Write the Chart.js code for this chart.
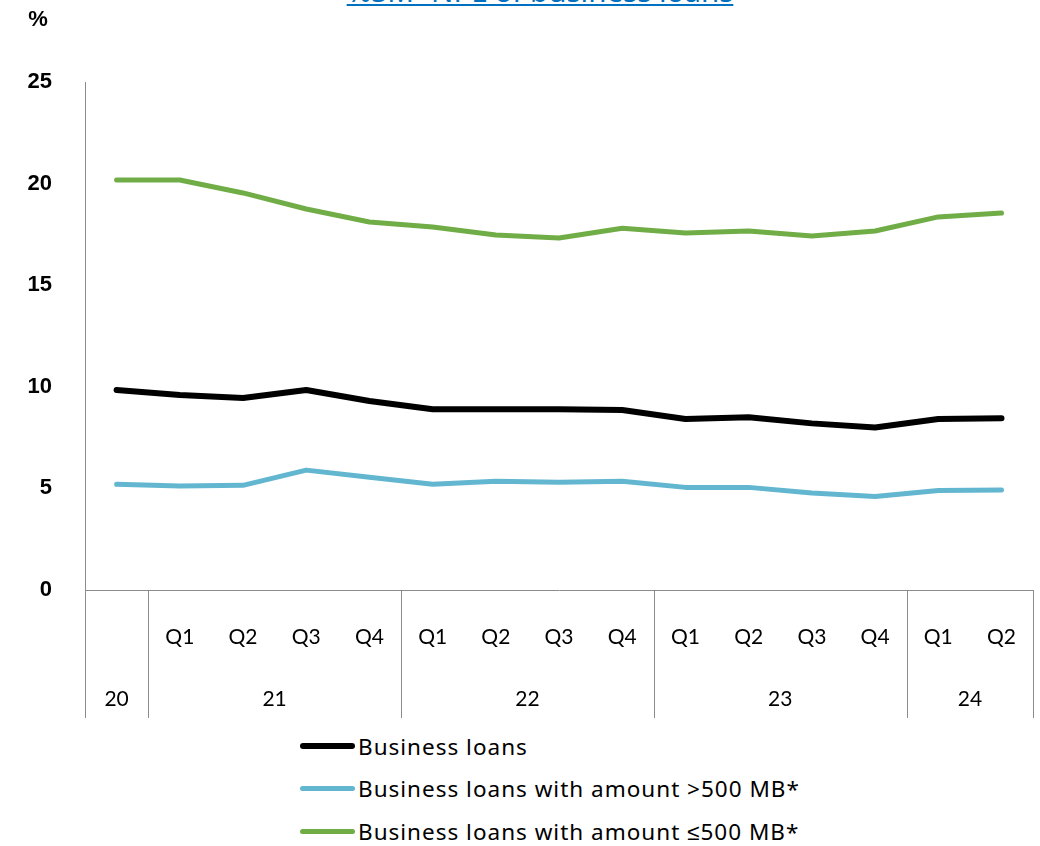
<!DOCTYPE html>
<html>
<head>
<meta charset="utf-8">
<script src="https://cdn.jsdelivr.net/npm/chart.js@4.4.1/dist/chart.umd.min.js"></script>
<style>
  html, body { margin: 0; padding: 0; background: #fff; overflow: hidden; }
  #wrap { position: relative; width: 1040px; height: 846px; overflow: hidden; }
  #title {
    position: absolute; left: 20px; width: 1040px; top: -30px; text-align: center;
    font-family: "Noto Sans", sans-serif; font-size: 29.5px; color: #0070c0;
  }
  #title span { text-decoration: underline; }
  #chart { position: absolute; left: 0; top: 0; }
  #legend { position: absolute; left: 300px; top: 725px; font-family: "Noto Sans", sans-serif; font-size: 22.5px; letter-spacing: 1px; color: #000; }
  .row { display: flex; align-items: center; height: 42.5px; }
  .swatch { width: 55px; border-radius: 4px; margin-right: 3px; }
</style>
</head>
<body>
<div id="wrap">
  <div id="title"><span>%SM+NPL of business loans</span></div>
  <canvas id="chart" width="1043" height="720"></canvas>
  <div id="legend"></div>
</div>
<script>
// categories
const quarterLabels = ['', 'Q1', 'Q2', 'Q3', 'Q4', 'Q1', 'Q2', 'Q3', 'Q4', 'Q1', 'Q2', 'Q3', 'Q4', 'Q1', 'Q2'];
const years = ['20', '21', '22', '23', '24'];
const yearSpans = [1, 4, 4, 4, 2];

// series (%)
const businessLoans = [9.84, 9.6, 9.45, 9.84, 9.3, 8.9, 8.9, 8.9, 8.86, 8.42, 8.5, 8.2, 8.0, 8.42, 8.45];
const largeLoans = [5.2, 5.12, 5.15, 5.9, 5.55, 5.2, 5.35, 5.3, 5.35, 5.05, 5.05, 4.77, 4.6, 4.9, 4.92];
const smallLoans = [20.18, 20.18, 19.54, 18.75, 18.11, 17.86, 17.47, 17.32, 17.8, 17.57, 17.67, 17.42, 17.67, 18.36, 18.55];

const seriesNames = ['Business loans', 'Business loans with amount >500 MB*', 'Business loans with amount \u2264500 MB*'];
const yTicks = [0, 5, 10, 15, 20, 25];

const gridColor = '#8c8c8c';
const axisBottom = 718;

const yearGroupPlugin = {
  id: 'yearGroups',
  afterDraw(chart) {
    const ctx = chart.ctx;
    const x = chart.scales.x;
    const area = chart.chartArea;
    const half = (x.getPixelForValue(1) - x.getPixelForValue(0)) / 2;
    ctx.save();
    ctx.strokeStyle = gridColor;
    ctx.lineWidth = 1;
    ctx.fillStyle = '#000';
    ctx.font = '21px Lato, "Noto Sans", sans-serif';
    ctx.textAlign = 'center';
    ctx.textBaseline = 'middle';
    let start = 0;
    const edges = [];
    years.forEach((yr, i) => {
      const end = start + yearSpans[i] - 1;
      const l = x.getPixelForValue(start) - half;
      const r = x.getPixelForValue(end) + half;
      edges.push(l, r);
      ctx.fillText(yr, (l + r) / 2, 699);
      start = end + 1;
    });
    [...new Set(edges.map(e => Math.round(e)))].forEach(e => {
      ctx.beginPath();
      ctx.moveTo(e + 0.5, area.bottom);
      ctx.lineTo(e + 0.5, axisBottom);
      ctx.stroke();
    });
    // unit label
    ctx.font = 'bold 22px "Liberation Sans", Arial, sans-serif';
    ctx.fillText('%', 38, 20);
    ctx.restore();
  }
};

const datasets = [
  { label: seriesNames[0], data: businessLoans, borderColor: '#000000', borderWidth: 6 },
  { label: seriesNames[1], data: largeLoans, borderColor: '#63b6d0', borderWidth: 5 },
  { label: seriesNames[2], data: smallLoans, borderColor: '#70ad47', borderWidth: 5 }
].map(d => Object.assign(d, { pointRadius: 0, tension: 0, fill: false, borderCapStyle: 'round', borderJoinStyle: 'round' }));

const chart = new Chart(document.getElementById('chart').getContext('2d'), {
  type: 'line',
  data: { labels: quarterLabels, datasets },
  options: {
    responsive: false,
    animation: false,
    devicePixelRatio: 1,
    layout: { padding: { top: 82, right: -5, bottom: 2, left: 0 } },
    plugins: { legend: { display: false }, tooltip: { enabled: false } },
    scales: {
      x: {
        offset: true,
        grid: { display: false, offset: true },
        border: { display: true, color: gridColor, width: 1 },
        ticks: { color: '#000', font: { family: 'Lato, "Noto Sans", sans-serif', size: 21 }, padding: 27, maxRotation: 0, autoSkip: false },
        afterFit(scale) { scale.height = 128; }
      },
      y: {
        min: 0, max: 25,
        afterBuildTicks(scale) { scale.ticks = yTicks.map(v => ({ value: v })); },
        grid: { display: false, drawTicks: false },
        border: { display: true, color: gridColor, width: 1 },
        ticks: { color: '#000', font: { family: '"Liberation Sans", Arial, sans-serif', size: 22, weight: 'bold' }, padding: 33 },
        afterFit(scale) { scale.width = 85; }
      }
    }
  },
  plugins: [yearGroupPlugin]
});

// legend in a column
const legend = document.getElementById('legend');
chart.data.datasets.forEach(ds => {
  const row = document.createElement('div');
  row.className = 'row';
  const sw = document.createElement('div');
  sw.className = 'swatch';
  sw.style.height = ds.borderWidth + 'px';
  sw.style.background = ds.borderColor;
  const txt = document.createElement('span');
  txt.textContent = ds.label;
  row.appendChild(sw);
  row.appendChild(txt);
  legend.appendChild(row);
});
</script>
</body>
</html>
